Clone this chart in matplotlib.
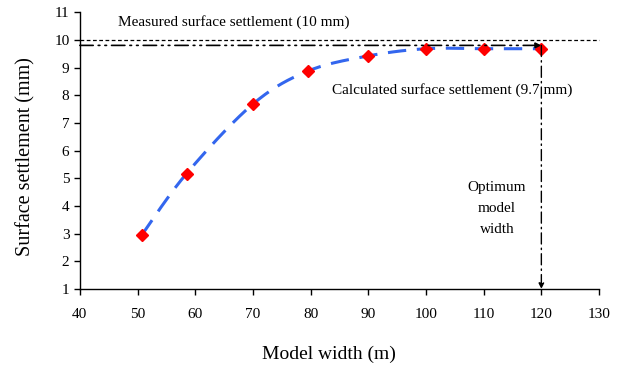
import numpy as np
import matplotlib
matplotlib.use("Agg")
import matplotlib.pyplot as plt

widths = [50.7, 58.5, 70.0, 79.5, 90.0, 100.0, 110.0, 120.0]
settlement = [2.94, 5.17, 7.68, 8.87, 9.42, 9.68, 9.68, 9.68]
measured = 10.0
calculated = 9.8
optimum = 120
xticks = [40, 50, 60, 70, 80, 90, 100, 110, 120, 130]
yticks = [1, 2, 3, 4, 5, 6, 7, 8, 9, 10, 11]

plt.rcParams['font.family'] = ['Liberation Serif', 'DejaVu Serif']

fig = plt.figure(figsize=(6.24, 3.69), dpi=100)
ax = fig.add_axes([0.128, 0.217, 0.832, 0.75])

# smooth curve (Catmull-Rom through the data points, like Excel's smoothed line)
def catmull(xs, ys, n=20):
    xs = np.asarray(xs, float); ys = np.asarray(ys, float)
    P = np.column_stack([xs, ys])
    P = np.vstack([P[0], P, P[-1]])
    out = []
    for i in range(1, len(P) - 2):
        p0, p1, p2, p3 = P[i-1], P[i], P[i+1], P[i+2]
        t = np.linspace(0, 1, n)[:, None]
        seg = 0.5 * ((2*p1) + (-p0 + p2)*t + (2*p0 - 5*p1 + 4*p2 - p3)*t**2 + (-p0 + 3*p1 - 3*p2 + p3)*t**3)
        out.append(seg)
    c = np.vstack(out)
    return c[:, 0], c[:, 1]

cx, cy = catmull(widths, settlement)
ax.plot(cx, cy, color='#3366ee', lw=2.2, dashes=(6, 3.5), zorder=2)
ax.plot(widths, settlement, linestyle='none', marker='D', color='red', markersize=6.5, zorder=3)

# measured line (dotted), extends across
ax.plot([40, 130], [measured, measured], color='black', lw=0.9, linestyle=(0, (3, 2)), zorder=1, clip_on=False)
# calculated line (dash-dot-dot) with arrow
ax.annotate('', xy=(optimum, calculated), xytext=(40, calculated),
            arrowprops=dict(arrowstyle='-|>', color='black', lw=1.2, linestyle=(0, (8, 3, 1, 3, 1, 3)),
                            shrinkA=0, shrinkB=0, mutation_scale=8))
# vertical optimum line with arrow
ax.annotate('', xy=(optimum, 1), xytext=(optimum, calculated),
            arrowprops=dict(arrowstyle='-|>', color='black', lw=1.0, linestyle=(0, (8, 3, 1, 3)),
                            shrinkA=0, shrinkB=0, mutation_scale=8))

ax.text(46.6, 10.64, 'Measured surface settlement (10 mm)', fontsize=11, va='center', ha='left')
ax.text(83.7, 8.2, 'Calculated surface settlement (9.7 mm)', fontsize=11, va='center', ha='left')
ax.text(112.3, 3.92, 'Optimum\nmodel\nwidth', fontsize=11, va='center', ha='center', linespacing=1.8)

ax.set_xlim(40, 130)
ax.set_ylim(1, 11)
ax.set_xticks(xticks)
ax.set_yticks(yticks)
ax.tick_params(direction='out', length=4, labelsize=11, width=1)
ax.tick_params(axis='x', pad=10)
for s in ['top', 'right']:
    ax.spines[s].set_visible(False)
for s in ['left', 'bottom']:
    ax.spines[s].set_linewidth(1.0)
ax.set_xlabel('Model width (m)', fontsize=14)
ax.set_ylabel('Surface settlement (mm)', fontsize=14.5)
ax.xaxis.set_label_coords(0.48, -0.205)
ax.yaxis.set_label_coords(-0.085, 0.478)

fig.savefig('out.png', dpi=100)
